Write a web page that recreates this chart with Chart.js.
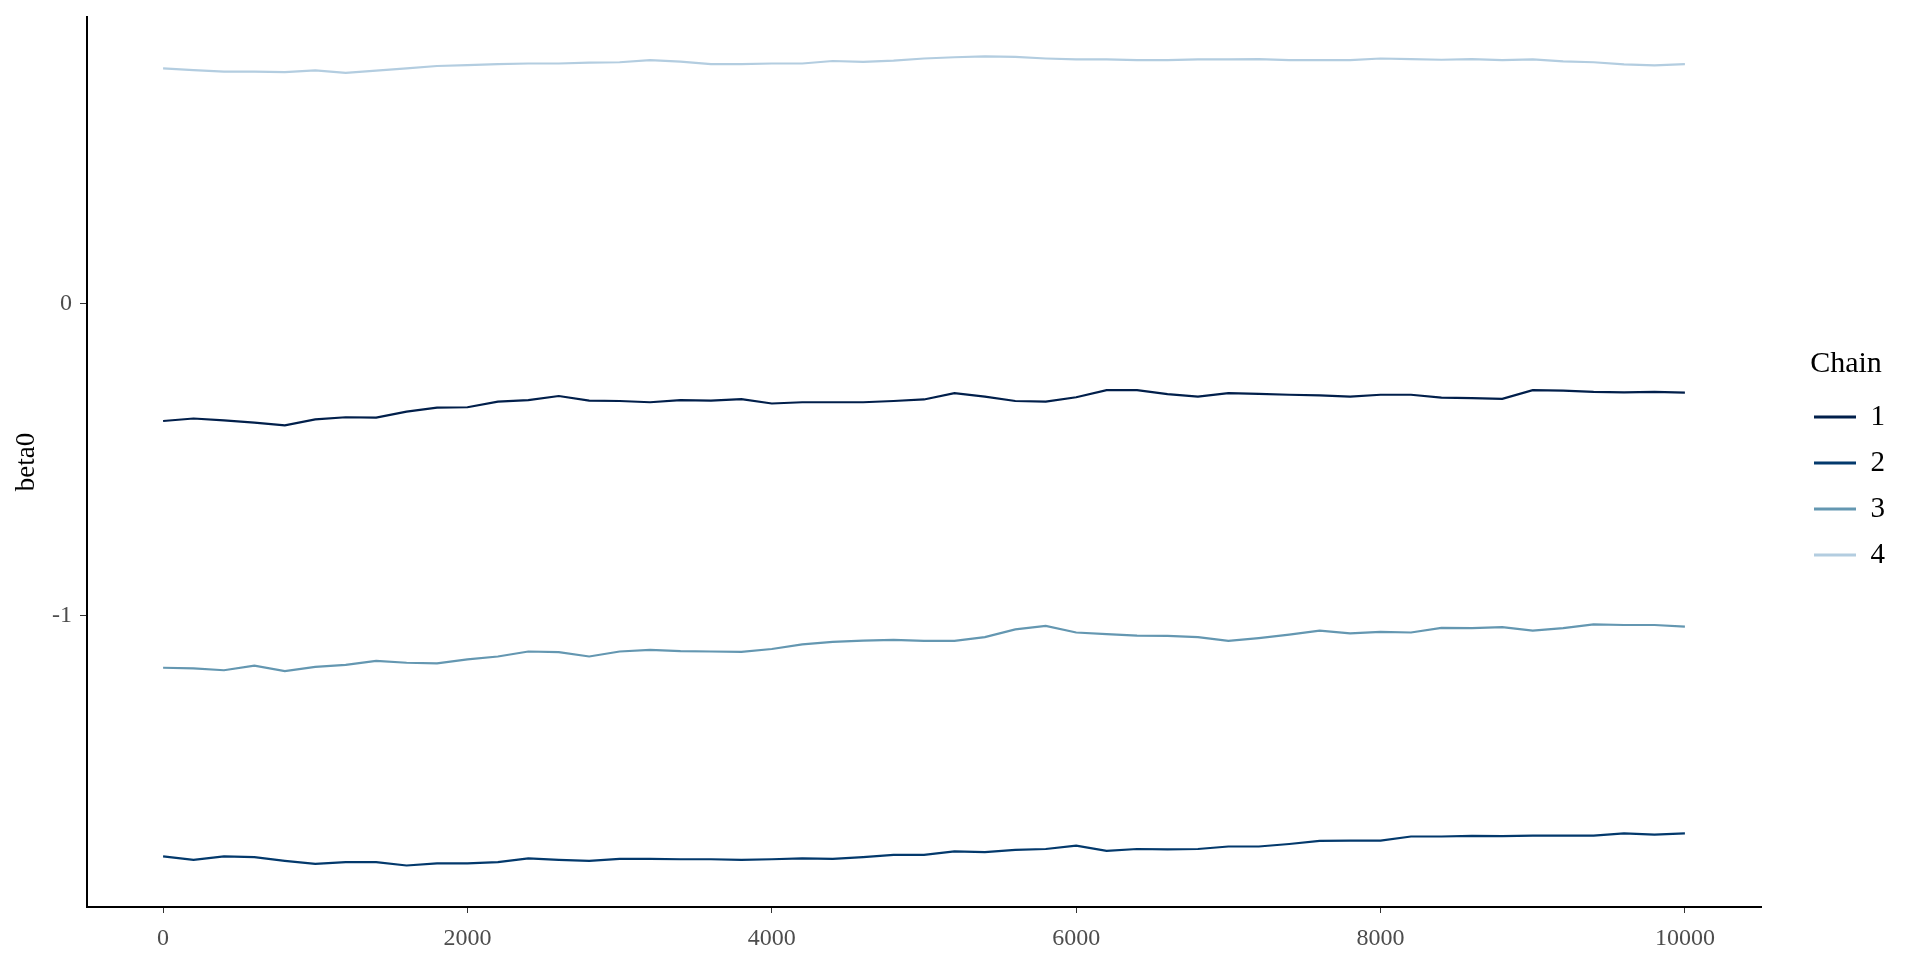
<!DOCTYPE html>
<html>
<head>
<meta charset="utf-8">
<script src="https://cdn.jsdelivr.net/npm/chart.js@4.4.1/dist/chart.umd.min.js"></script>
<style>
  body { margin: 0; background: #fff; }
</style>
</head>
<body>
<canvas id="myChart" width="1920" height="960"></canvas>
<script>
// trace of beta0, read every 200 iterations
var iterations = [0, 200, 400, 600, 800, 1000, 1200, 1400, 1600, 1800,
	2000, 2200, 2400, 2600, 2800, 3000, 3200, 3400, 3600, 3800,
	4000, 4200, 4400, 4600, 4800, 5000, 5200, 5400, 5600, 5800,
	6000, 6200, 6400, 6600, 6800, 7000, 7200, 7400, 7600, 7800,
	8000, 8200, 8400, 8600, 8800, 9000, 9200, 9400, 9600, 9800,
	10000];

var chain1 = [-0.376, -0.368, -0.374, -0.381, -0.390, -0.371, -0.364, -0.365, -0.346, -0.333,
	-0.332, -0.314, -0.309, -0.296, -0.311, -0.312, -0.316, -0.309, -0.311, -0.306,
	-0.320, -0.316, -0.316, -0.316, -0.312, -0.307, -0.287, -0.298, -0.312, -0.314,
	-0.300, -0.277, -0.277, -0.290, -0.298, -0.287, -0.289, -0.292, -0.294, -0.298,
	-0.292, -0.292, -0.301, -0.303, -0.305, -0.277, -0.279, -0.283, -0.284, -0.283,
	-0.285];

var chain2 = [-1.772, -1.783, -1.772, -1.774, -1.786, -1.796, -1.790, -1.790, -1.801, -1.794,
	-1.794, -1.790, -1.778, -1.783, -1.786, -1.780, -1.780, -1.781, -1.781, -1.783,
	-1.781, -1.778, -1.780, -1.774, -1.767, -1.767, -1.756, -1.758, -1.751, -1.748,
	-1.737, -1.754, -1.748, -1.749, -1.748, -1.740, -1.740, -1.732, -1.722, -1.721,
	-1.721, -1.708, -1.708, -1.706, -1.707, -1.705, -1.705, -1.705, -1.698, -1.702,
	-1.698];

var chain3 = [-1.167, -1.169, -1.175, -1.160, -1.178, -1.164, -1.158, -1.145, -1.151, -1.153,
	-1.140, -1.131, -1.115, -1.117, -1.131, -1.115, -1.110, -1.114, -1.115, -1.116,
	-1.107, -1.092, -1.084, -1.080, -1.078, -1.081, -1.081, -1.069, -1.044, -1.033,
	-1.054, -1.059, -1.064, -1.065, -1.069, -1.081, -1.072, -1.061, -1.048, -1.057,
	-1.052, -1.054, -1.039, -1.040, -1.037, -1.048, -1.040, -1.028, -1.030, -1.030,
	-1.035];

var chain4 = [0.754, 0.749, 0.744, 0.744, 0.742, 0.748, 0.740, 0.747, 0.754, 0.762,
	0.765, 0.768, 0.770, 0.770, 0.773, 0.774, 0.781, 0.776, 0.768, 0.768,
	0.770, 0.770, 0.778, 0.775, 0.779, 0.786, 0.790, 0.793, 0.791, 0.786,
	0.783, 0.783, 0.781, 0.781, 0.783, 0.783, 0.784, 0.781, 0.781, 0.781,
	0.786, 0.784, 0.782, 0.784, 0.781, 0.783, 0.777, 0.774, 0.767, 0.764,
	0.768];

var chainLabels = ['1', '2', '3', '4'];
var xTicks = [0, 2000, 4000, 6000, 8000, 10000];
var yTicks = [-1, 0];

var serif = "'Liberation Serif', 'Times New Roman', serif";

function series(vals) {
	return iterations.map(function(it, i) {
		return { x: it, y: vals[i] };
	});
}

var ctx1 = document.getElementById('myChart').getContext('2d');
new Chart(ctx1, {
	type: 'line',
	data: {
		datasets: [
			{ label: chainLabels[0], data: series(chain1), borderColor: '#011f4b', backgroundColor: '#011f4b' },
			{ label: chainLabels[1], data: series(chain2), borderColor: '#03396c', backgroundColor: '#03396c' },
			{ label: chainLabels[2], data: series(chain3), borderColor: '#6497b1', backgroundColor: '#6497b1' },
			{ label: chainLabels[3], data: series(chain4), borderColor: '#b3cde0', backgroundColor: '#b3cde0' }
		]
	},
	options: {
		responsive: false,
		animation: false,
		layout: { padding: { top: 17, right: 25, bottom: 0, left: 0 } },
		elements: {
			point: { radius: 0 },
			line: { tension: 0, borderWidth: 2.2 }
		},
		plugins: {
			tooltip: { enabled: false },
			legend: {
				position: 'right',
				align: 'center',
				fullSize: false,
				title: {
					display: true,
					text: 'Chain',
					color: '#000',
					position: 'center',
					font: { family: serif, size: 30 },
					padding: { top: 12, bottom: 0 }
				},
				labels: {
					color: '#000',
					font: { family: serif, size: 29 },
					usePointStyle: true,
					pointStyle: 'line',
					pointStyleWidth: 42,
					boxHeight: 29,
					padding: 17,
					generateLabels: function(chart) {
						var items = Chart.defaults.plugins.legend.labels.generateLabels(chart);
						items.forEach(function(it) { it.lineWidth = 3; });
						return items;
					}
				}
			}
		},
		scales: {
			x: {
				type: 'linear',
				min: -500,
				max: 10500,
				afterBuildTicks: function(s) {
					s.ticks = xTicks.map(function(v) { return { value: v }; });
				},
				afterFit: function(s) {
					s.height = 53;
					s.paddingLeft = 0;
					s.paddingRight = 0;
				},
				grid: { display: true, drawOnChartArea: false, drawTicks: true, tickLength: 6, color: '#333333', lineWidth: 1 },
				border: { display: true, color: '#000', width: 2 },
				ticks: {
					padding: 11,
					color: '#4d4d4d',
					font: { family: serif, size: 24 },
					maxRotation: 0,
					autoSkip: false,
					callback: function(v) { return String(v); }
				}
			},
			y: {
				min: -1.934,
				max: 0.919,
				afterBuildTicks: function(s) {
					s.ticks = yTicks.map(function(v) { return { value: v }; });
				},
				afterFit: function(s) {
					s.width = 87;
					s.paddingTop = 0;
					s.paddingBottom = 0;
				},
				grid: { display: true, drawOnChartArea: false, drawTicks: true, tickLength: 7, color: '#333333', lineWidth: 1 },
				border: { display: true, color: '#000', width: 2 },
				ticks: {
					padding: 8,
					color: '#4d4d4d',
					font: { family: serif, size: 24 },
					callback: function(v) { return String(v); }
				},
				title: {
					display: true,
					text: 'beta0',
					color: '#000',
					font: { family: serif, size: 27 },
					padding: { top: 11, bottom: 0 }
				}
			},
			// empty strip between the panel and the legend
			gap: {
				position: 'right',
				display: true,
				grid: { display: false },
				border: { display: false },
				ticks: { display: false },
				afterFit: function(s) { s.width = 36; }
			}
		}
	}
});
</script>
</body>
</html>
